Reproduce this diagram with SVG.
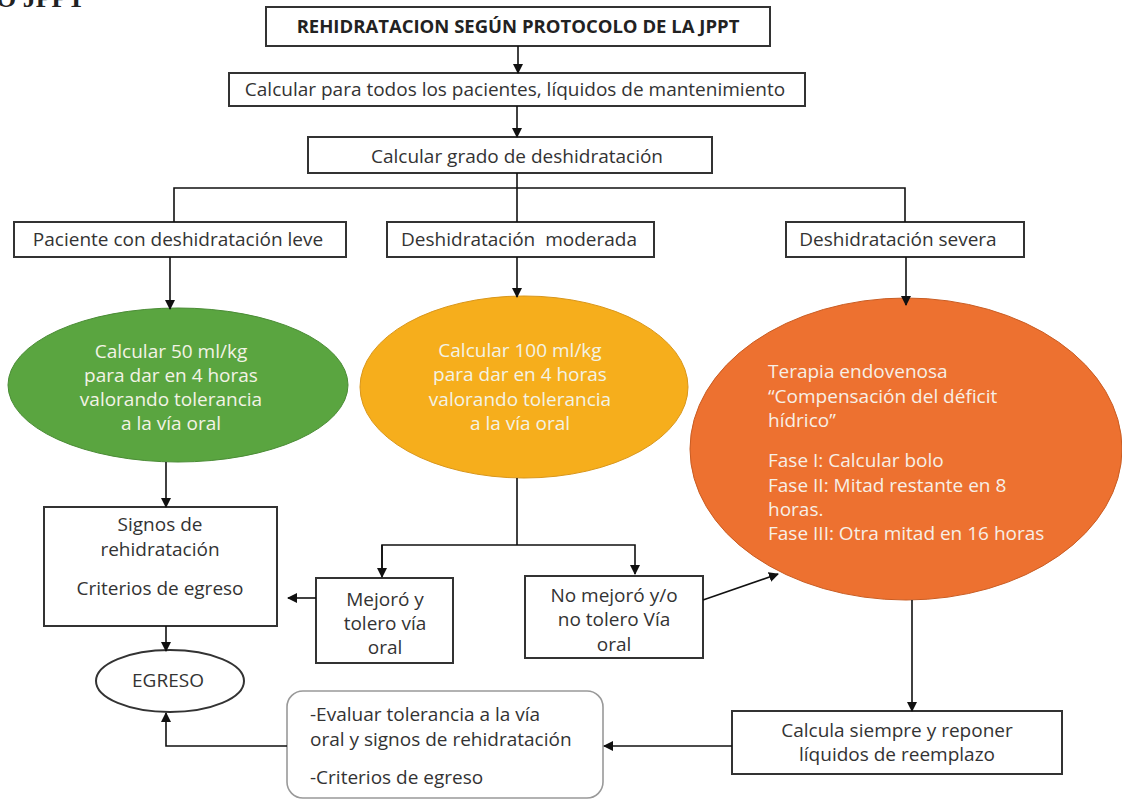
<svg xmlns="http://www.w3.org/2000/svg" width="1122" height="800" viewBox="0 0 1122 800">
<defs>
<marker id="ah" viewBox="0 0 10 10" refX="9" refY="5" markerWidth="10" markerHeight="10" markerUnits="userSpaceOnUse" orient="auto">
<path d="M0,0 L10,5 L0,10 z" fill="#111"/>
</marker>
</defs>
<style>
.box{fill:#fff;stroke:#333;stroke-width:2}
.t{font-family:"Open Sans","Noto Sans",sans-serif;font-size:19px;fill:#333;text-anchor:middle}
.tb{font-family:"Open Sans","Noto Sans",sans-serif;font-size:18.5px;font-weight:bold;fill:#222;text-anchor:middle}
.tw{font-family:"Open Sans","Noto Sans",sans-serif;font-size:19px;fill:#f3f3e6;text-anchor:middle}
.tl{font-family:"Open Sans","Noto Sans",sans-serif;font-size:19px;fill:#f7efe6}
.c{fill:none;stroke:#111;stroke-width:1.6}
</style>
<rect width="1122" height="800" fill="#fff"/>
<text x="-4" y="7" style="font-family:'Liberation Serif',serif;font-weight:bold;font-size:26px;fill:#222">O JPPT</text>

<g id="n-title"><rect class="box" x="266" y="7" width="504" height="39"/><text class="tb" x="518" y="33">REHIDRATACION SEGÚN PROTOCOLO DE LA JPPT</text></g>
<g id="n-mant"><rect class="box" x="229" y="73" width="576" height="33"/><text class="t" x="515" y="96">Calcular para todos los pacientes, líquidos de mantenimiento</text></g>
<g id="n-grado"><rect class="box" x="308" y="137" width="404" height="36"/><text class="t" x="517" y="163">Calcular grado de deshidratación</text></g>
<g id="n-leve"><rect class="box" x="14" y="222" width="332" height="35"/><text class="t" x="178" y="246">Paciente con deshidratación leve</text></g>
<g id="n-mod"><rect class="box" x="387" y="222" width="267" height="35"/><text class="t" x="519" y="246" xml:space="preserve">Deshidratación  moderada</text></g>
<g id="n-sev"><rect class="box" x="786" y="222" width="238" height="35"/><text class="t" x="898" y="246">Deshidratación severa</text></g>

<g id="n-green"><ellipse cx="178" cy="385" rx="170" ry="77" fill="#5aa540" stroke="#4a8c35" stroke-width="1"/>
<text class="tw" x="171" y="358">Calcular 50 ml/kg</text><text class="tw" x="171" y="382">para dar en 4 horas</text><text class="tw" x="171" y="406">valorando tolerancia</text><text class="tw" x="171" y="430">a la vía oral</text></g>
<g id="n-yellow"><ellipse cx="524" cy="387" rx="164" ry="91" fill="#f6ae1c" stroke="#d9961a" stroke-width="1"/>
<text class="tw" x="520" y="357">Calcular 100 ml/kg</text><text class="tw" x="520" y="381">para dar en 4 horas</text><text class="tw" x="520" y="406">valorando tolerancia</text><text class="tw" x="520" y="430">a la vía oral</text></g>
<g id="n-orange"><ellipse cx="906" cy="449" rx="216" ry="151" fill="#ed7130" stroke="#c95c22" stroke-width="1"/>
<text class="tl" x="768" y="378">Terapia endovenosa</text><text class="tl" x="768" y="403">“Compensación del déficit</text><text class="tl" x="768" y="427">hídrico”</text>
<text class="tl" x="768" y="467">Fase I: Calcular bolo</text><text class="tl" x="768" y="492">Fase II: Mitad restante en 8</text><text class="tl" x="768" y="516">horas.</text><text class="tl" x="768" y="540">Fase III: Otra mitad en 16 horas</text></g>

<g id="n-signos"><rect class="box" x="44" y="507" width="233" height="119"/><text class="t" x="160" y="531">Signos de</text><text class="t" x="160" y="556">rehidratación</text><text class="t" x="160" y="595">Criterios de egreso</text></g>
<g id="n-egreso"><ellipse cx="170" cy="681" rx="74" ry="31" fill="#fff" stroke="#333" stroke-width="2"/><text class="t" x="168" y="687">EGRESO</text></g>
<g id="n-mejoro"><rect class="box" x="316" y="578" width="137" height="85"/><text class="t" x="385" y="606">Mejoró y</text><text class="t" x="385" y="630">tolero vía</text><text class="t" x="385" y="654">oral</text></g>
<g id="n-nomejoro"><rect class="box" x="525" y="576" width="178" height="82"/><text class="t" x="614" y="602">No mejoró y/o</text><text class="t" x="614" y="626">no tolero Vía</text><text class="t" x="614" y="651">oral</text></g>
<g id="n-calcula"><rect class="box" x="732" y="711" width="330" height="63"/><text class="t" x="897" y="737">Calcula siempre y reponer</text><text class="t" x="897" y="761">líquidos de reemplazo</text></g>
<g id="n-evaluar"><rect x="287" y="691" width="316" height="107" rx="16" fill="#fff" stroke="#999" stroke-width="1.6"/>
<text class="t" style="text-anchor:start" x="310" y="721">-Evaluar tolerancia a la vía</text><text class="t" style="text-anchor:start" x="310" y="746">oral y signos de rehidratación</text><text class="t" style="text-anchor:start" x="310" y="784">-Criterios de egreso</text></g>

<g id="connectors">
<path class="c" d="M518,46 V73" marker-end="url(#ah)"/>
<path class="c" d="M517,106 V137" marker-end="url(#ah)"/>
<path class="c" d="M517,173 V222"/>
<path class="c" d="M174,222 V188 H905 V222"/>
<path class="c" d="M170,257 V309" marker-end="url(#ah)"/>
<path class="c" d="M517,257 V297" marker-end="url(#ah)"/>
<path class="c" d="M906,257 V305" marker-end="url(#ah)"/>
<path class="c" d="M166,462 V507" marker-end="url(#ah)"/>
<path class="c" d="M166,626 V651" marker-end="url(#ah)"/>
<path class="c" d="M517,478 V545"/>
<path class="c" d="M382,574 V545 H635 V574" marker-end="url(#ah)"/>
<path class="c" d="M382,545 V577" marker-end="url(#ah)"/>
<path class="c" d="M316,598 H288" marker-end="url(#ah)"/>
<path class="c" d="M703,600 L778,574" marker-end="url(#ah)"/>
<path class="c" d="M912,600 V711" marker-end="url(#ah)"/>
<path class="c" d="M732,746 H604" marker-end="url(#ah)"/>
<path class="c" d="M287,746 H166 V713" marker-end="url(#ah)"/>
</g>
</svg>
